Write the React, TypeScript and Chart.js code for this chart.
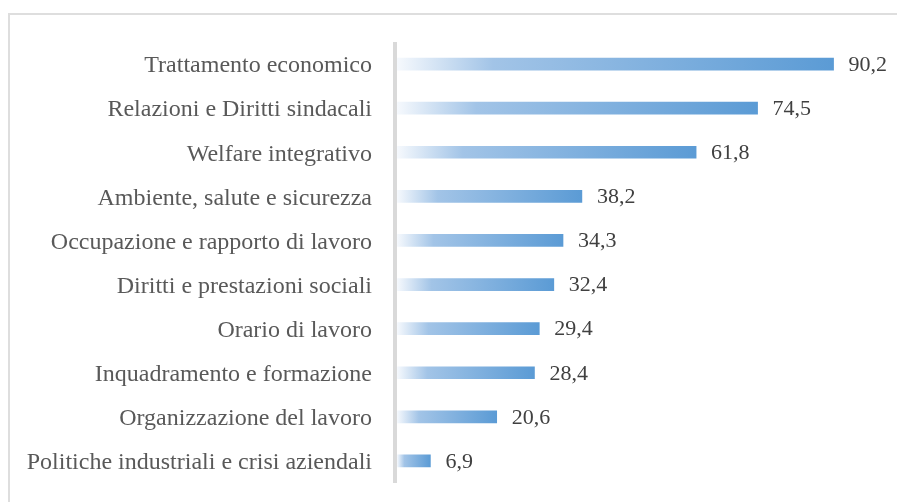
import React, { useEffect, useRef } from "react";
import { Chart, registerables } from "chart.js";

Chart.register(...registerables);

const categories = [
  "Trattamento economico",
  "Relazioni e Diritti sindacali",
  "Welfare integrativo",
  "Ambiente, salute e sicurezza",
  "Occupazione e rapporto di lavoro",
  "Diritti e prestazioni sociali",
  "Orario di lavoro",
  "Inquadramento e formazione",
  "Organizzazione del lavoro",
  "Politiche industriali e crisi aziendali",
];

const values = [90.2, 74.5, 61.8, 38.2, 34.3, 32.4, 29.4, 28.4, 20.6, 6.9];

const valueLabels = ["90,2", "74,5", "61,8", "38,2", "34,3", "32,4", "29,4", "28,4", "20,6", "6,9"];

const FONT = "'Liberation Serif', 'Times New Roman', serif";

const valueLabelPlugin = {
  id: "valueLabels",
  afterDatasetsDraw(chart: any) {
    const ctx = chart.ctx;
    const meta = chart.getDatasetMeta(0);
    const area = chart.chartArea;
    ctx.save();
    ctx.fillStyle = "#d9d9d9";
    ctx.fillRect(area.left - 4, area.top, 4, area.bottom - area.top);
    ctx.font = `22px ${FONT}`;
    ctx.fillStyle = "#404040";
    ctx.textAlign = "left";
    ctx.textBaseline = "middle";
    meta.data.forEach((bar: any, i: number) => {
      ctx.fillText(valueLabels[i], bar.x + 15, bar.y + 1);
    });
    ctx.restore();
  },
};

export default function App() {
  const ref = useRef<HTMLCanvasElement | null>(null);

  useEffect(() => {
    if (!ref.current) return;
    const chart = new Chart(ref.current, {
      type: "bar",
      data: {
        labels: categories,
        datasets: [
          {
            data: values,
            barThickness: 12,
            borderWidth: 0,
            backgroundColor: (c: any) => {
              const ch = c.chart;
              const xs = ch.scales?.x;
              if (!xs || c.dataIndex === undefined) return "#5b9bd5";
              const x0 = xs.getPixelForValue(0);
              const x1 = xs.getPixelForValue(values[c.dataIndex]);
              if (!isFinite(x0) || !isFinite(x1) || x1 <= x0) return "#5b9bd5";
              const g = ch.ctx.createLinearGradient(x0, 0, x1, 0);
              g.addColorStop(0, "#f6f9fd");
              g.addColorStop(0.22, "#a2c4e7");
              g.addColorStop(1, "#5b9bd5");
              return g;
            },
          },
        ],
      },
      options: {
        indexAxis: "y",
        animation: false,
        responsive: false,
        maintainAspectRatio: false,
        layout: { padding: { left: 0, right: 16, top: 42, bottom: 19 } },
        plugins: {
          legend: { display: false },
          tooltip: { enabled: false },
        },
        scales: {
          x: {
            display: false,
            min: 0,
            max: 100,
          },
          y: {
            grid: { display: false, drawTicks: false },
            border: { display: false },
            afterFit: (scale: any) => {
              scale.width = 397;
              scale.paddingTop = 0;
              scale.paddingBottom = 0;
            },
            ticks: {
              padding: 25,
              labelOffset: 2,
              color: "#595959",
              font: { family: FONT, size: 24 },
            },
          },
        },
      },
      plugins: [valueLabelPlugin],
    });
    return () => chart.destroy();
  }, []);

  return (
    <div style={{ position: "fixed", left: 0, top: 0, width: 897, height: 502, background: "#fff", overflow: "hidden" }}>
      <div
        style={{
          position: "absolute",
          left: 8,
          top: 13,
          width: 900,
          height: 500,
          borderTop: "2px solid #dedede",
          borderLeft: "2px solid #dedede",
        }}
      />
      <canvas ref={ref} width={897} height={502} style={{ position: "absolute", left: 0, top: 0 }} />
    </div>
  );
}
